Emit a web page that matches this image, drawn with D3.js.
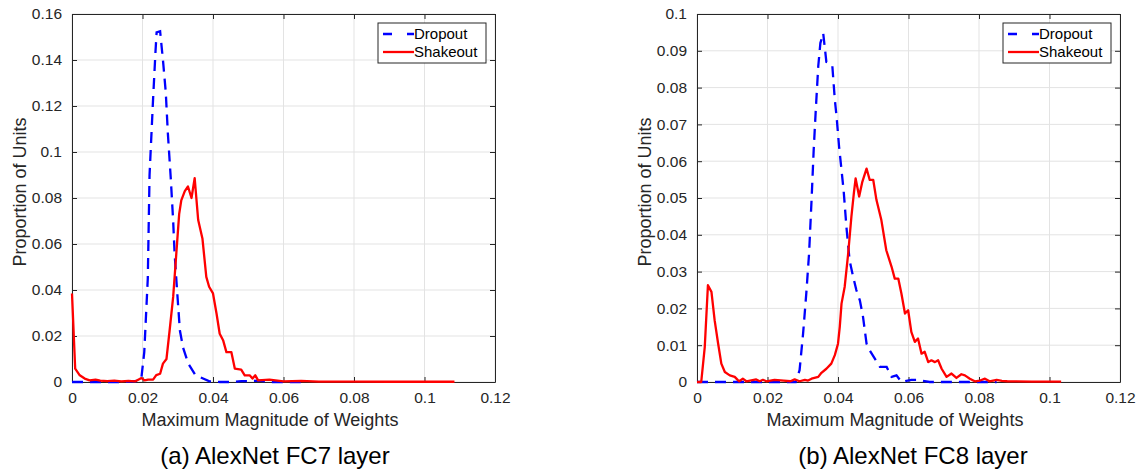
<!DOCTYPE html>
<html>
<head>
<meta charset="utf-8">
<script src="https://cdn.jsdelivr.net/npm/d3@7"></script>
<style>
  body { margin: 0; background: #fff; }
  text { font-family: "Liberation Sans", Arial, sans-serif; }
</style>
</head>
<body>
<div id="chart"></div>
<script>
// Two MATLAB-style histogram curves: Dropout vs Shakeout weight magnitudes

var svgWidth = 1137;
var svgHeight = 469;

// ---- data ----
// (a) FC7
var fc7DropX = [0, 0.005, 0.01, 0.015, 0.019, 0.0197, 0.0205, 0.0215, 0.022, 0.023, 0.0237, 0.024, 0.025, 0.0258, 0.0266, 0.0272, 0.028, 0.0287, 0.0291, 0.0298, 0.0306, 0.0315, 0.033, 0.035, 0.039, 0.042, 0.045, 0.048, 0.05, 0.053, 0.056, 0.06, 0.065];
var fc7DropY = [0, 0, 0, 0, 0.0005, 0.002, 0.013, 0.045, 0.09, 0.123, 0.144, 0.152, 0.1525, 0.14, 0.126, 0.108, 0.089, 0.07, 0.056, 0.04, 0.0225, 0.015, 0.008, 0.003, 0.0003, 0, 0, 0.0004, 0.0004, 0.0006, 0, 0, 0];

var fc7ShakeX = [0, 0.0009, 0.0022, 0.0036, 0.005, 0.0067, 0.008, 0.01, 0.012, 0.014, 0.016, 0.018, 0.0197, 0.0206, 0.0216, 0.023, 0.0239, 0.025, 0.0258, 0.0268, 0.0277, 0.0287, 0.0296, 0.0304, 0.031, 0.032, 0.0329, 0.0339, 0.0348, 0.0358, 0.037, 0.0381, 0.0389, 0.04, 0.041, 0.0419, 0.0429, 0.0438, 0.0452, 0.0462, 0.048, 0.049, 0.0504, 0.0512, 0.052, 0.0528, 0.056, 0.06, 0.065, 0.07, 0.08, 0.09, 0.1, 0.1085];
var fc7ShakeY = [0.0385, 0.0058, 0.0029, 0.0015, 0.0007, 0.001, 0.0006, 0.0004, 0.0006, 0.0003, 0.0005, 0.0003, 0.0017, 0.0007, 0.001, 0.001, 0.003, 0.0036, 0.008, 0.010, 0.0225, 0.037, 0.056, 0.073, 0.079, 0.083, 0.085, 0.080, 0.0886, 0.0704, 0.0624, 0.0457, 0.0414, 0.0385, 0.0298, 0.021, 0.018, 0.013, 0.013, 0.0058, 0.0054, 0.0029, 0.0029, 0.0015, 0.0029, 0.0007, 0.001, 0.0003, 0.0005, 0.0002, 0.0002, 0.0001, 0.0001, 0.0001];

// (b) FC8
var fc8DropX = [0, 0.01, 0.02, 0.028, 0.0291, 0.0301, 0.031, 0.0318, 0.0325, 0.0331, 0.0337, 0.0344, 0.035, 0.0358, 0.0367, 0.0377, 0.0384, 0.0391, 0.0396, 0.0403, 0.041, 0.0416, 0.0424, 0.0433, 0.0443, 0.0452, 0.0462, 0.0471, 0.0481, 0.049, 0.0504, 0.0519, 0.0538, 0.0552, 0.0566, 0.058, 0.0608, 0.0625, 0.066, 0.07, 0.08, 0.085];
var fc8DropY = [0, 0, 0, 0, 0.0032, 0.0132, 0.024, 0.035, 0.0495, 0.063, 0.074, 0.0858, 0.0921, 0.0948, 0.087, 0.0867, 0.0858, 0.0767, 0.0721, 0.064, 0.0576, 0.052, 0.042, 0.033, 0.0286, 0.025, 0.0222, 0.0177, 0.0104, 0.0086, 0.0064, 0.0041, 0.0041, 0.0014, 0.0018, 0, 0.0006, 0.0006, 0, 0, 0, 0];

var fc8ShakeX = [0, 0.0012, 0.0022, 0.0031, 0.0041, 0.005, 0.006, 0.0069, 0.0079, 0.0093, 0.0107, 0.0116, 0.012, 0.013, 0.014, 0.0168, 0.0178, 0.0187, 0.0197, 0.022, 0.0246, 0.0265, 0.0277, 0.0291, 0.0306, 0.0315, 0.0325, 0.0344, 0.0353, 0.0367, 0.0381, 0.0391, 0.04, 0.0405, 0.041, 0.0419, 0.0429, 0.0438, 0.0445, 0.045, 0.046, 0.0469, 0.0481, 0.049, 0.05, 0.0509, 0.0523, 0.0537, 0.0552, 0.0561, 0.0571, 0.058, 0.059, 0.0599, 0.0608, 0.0618, 0.0627, 0.0637, 0.0646, 0.0656, 0.0665, 0.0675, 0.0684, 0.0694, 0.0708, 0.0722, 0.0736, 0.075, 0.076, 0.0774, 0.0788, 0.0803, 0.0817, 0.083, 0.085, 0.0865, 0.088, 0.095, 0.1033];
var fc8ShakeY = [0, 0, 0.0095, 0.0263, 0.0245, 0.0168, 0.0104, 0.005, 0.0027, 0.0018, 0.0014, 0.0005, 0.0002, 0.0009, 0.0002, 0.0007, 0.0002, 0.0006, 0.0002, 0.0006, 0.0004, 0.0002, 0.0007, 0.0002, 0.0006, 0.0004, 0.0009, 0.0014, 0.0025, 0.0036, 0.005, 0.0073, 0.0104, 0.015, 0.0213, 0.0259, 0.035, 0.0449, 0.0513, 0.0553, 0.0504, 0.0544, 0.058, 0.0549, 0.0549, 0.0495, 0.044, 0.0358, 0.0313, 0.0281, 0.0281, 0.024, 0.0186, 0.0195, 0.0136, 0.0109, 0.0118, 0.0077, 0.0082, 0.0054, 0.0059, 0.0054, 0.0059, 0.0036, 0.0014, 0.0023, 0.0011, 0.0021, 0.0018, 0.0009, 0.0002, 0.0004, 0.0009, 0.0002, 0.0006, 0.0003, 0.0002, 0.0001, 0.0001];

var xTicks = [0, 0.02, 0.04, 0.06, 0.08, 0.1, 0.12];
var fc7YTicks = [0, 0.02, 0.04, 0.06, 0.08, 0.1, 0.12, 0.14, 0.16];
var fc8YTicks = [0, 0.01, 0.02, 0.03, 0.04, 0.05, 0.06, 0.07, 0.08, 0.09, 0.1];
var seriesNames = ["Dropout", "Shakeout"];

var panels = [
    {left: 72, caption: "(a) AlexNet FC7 layer", captionX: 203, yMax: 0.16, yTicks: fc7YTicks,
     drop: d3.zip(fc7DropX, fc7DropY), shake: d3.zip(fc7ShakeX, fc7ShakeY)},
    {left: 697, caption: "(b) AlexNet FC8 layer", captionX: 216, yMax: 0.1, yTicks: fc8YTicks,
     drop: d3.zip(fc8DropX, fc8DropY), shake: d3.zip(fc8ShakeX, fc8ShakeY)}
];

var plotWidth = 423;
var plotTop = 14;
var plotHeight = 368;
var axisColor = "#262626";

var svg = d3.select("#chart").append("svg")
    .attr("width", svgWidth)
    .attr("height", svgHeight);

panels.forEach(function(p) {
    var g = svg.append("g")
        .attr("transform", `translate(${p.left}, ${plotTop})`);

    var x = d3.scaleLinear().domain([0, 0.12]).range([0, plotWidth]);
    var y = d3.scaleLinear().domain([0, p.yMax]).range([plotHeight, 0]);

    // grid
    g.append("g").selectAll("line").data(xTicks).enter().append("line")
        .attr("x1", d => x(d)).attr("x2", d => x(d))
        .attr("y1", 0).attr("y2", plotHeight)
        .attr("stroke", "#e3e3e3").attr("stroke-width", 1);
    g.append("g").selectAll("line").data(p.yTicks).enter().append("line")
        .attr("y1", d => y(d)).attr("y2", d => y(d))
        .attr("x1", 0).attr("x2", plotWidth)
        .attr("stroke", "#e3e3e3").attr("stroke-width", 1);

    // axes, ticks inside on all four sides
    var xAxis = d3.axisBottom(x).tickValues(xTicks).tickFormat(d3.format("~g")).tickSizeInner(-5).tickSizeOuter(0).tickPadding(10);
    var yAxis = d3.axisLeft(y).tickValues(p.yTicks).tickFormat(d3.format("~g")).tickSizeInner(-5).tickSizeOuter(0).tickPadding(10);

    var gx = g.append("g").attr("transform", `translate(0, ${plotHeight})`).call(xAxis);
    var gy = g.append("g").call(yAxis);
    var gx2 = g.append("g").call(d3.axisTop(x).tickValues(xTicks).tickFormat("").tickSizeInner(-5).tickSizeOuter(0));
    var gy2 = g.append("g").attr("transform", `translate(${plotWidth}, 0)`)
        .call(d3.axisRight(y).tickValues(p.yTicks).tickFormat("").tickSizeInner(-5).tickSizeOuter(0));

    [gx, gy, gx2, gy2].forEach(function(a) {
        a.select(".domain").attr("stroke", axisColor);
        a.selectAll(".tick line").attr("stroke", axisColor);
        a.selectAll("text").attr("fill", axisColor).attr("font-size", "15.5px")
            .style("font-family", "'Liberation Sans', Arial, sans-serif");
    });
    gx.selectAll("text").attr("dy", "0.71em");

    // curves
    var line = d3.line().x(d => x(d[0])).y(d => y(d[1]));

    g.append("path").datum(p.drop)
        .attr("d", line)
        .attr("fill", "none")
        .attr("stroke", "#0000ff")
        .attr("stroke-width", 2.3)
        .attr("stroke-dasharray", "11,7");

    g.append("path").datum(p.shake)
        .attr("d", line)
        .attr("fill", "none")
        .attr("stroke", "#ff0000")
        .attr("stroke-width", 2.3)
        .attr("stroke-linejoin", "round");

    // legend
    var lg = g.append("g").attr("transform", `translate(${plotWidth - 117}, 9)`);
    lg.append("rect").attr("width", 108).attr("height", 40)
        .attr("fill", "#fff").attr("stroke", axisColor).attr("stroke-width", 1);
    seriesNames.forEach(function(name, i) {
        var yy = 11 + i * 18;
        lg.append("line")
            .attr("x1", 5).attr("x2", 36).attr("y1", yy).attr("y2", yy)
            .attr("stroke", i === 0 ? "#0000ff" : "#ff0000")
            .attr("stroke-width", 2.3)
            .attr("stroke-dasharray", i === 0 ? "9,15" : null);
        lg.append("text")
            .attr("x", 36).attr("y", yy).attr("dy", "0.35em")
            .attr("font-size", "15px").attr("fill", "#000")
            .text(name);
    });

    // axis labels
    g.append("text")
        .attr("x", 198).attr("y", plotHeight + 44)
        .attr("text-anchor", "middle")
        .attr("font-size", "18px").attr("fill", axisColor)
        .text("Maximum Magnitude of Weights");

    g.append("text")
        .attr("transform", "rotate(-90)")
        .attr("x", -(plotHeight / 2) + 6).attr("y", -46)
        .attr("text-anchor", "middle")
        .attr("font-size", "18px").attr("fill", axisColor)
        .text("Proportion of Units");

    // caption
    g.append("text")
        .attr("x", p.captionX).attr("y", plotHeight + 82)
        .attr("text-anchor", "middle")
        .attr("font-size", "24px").attr("fill", "#000")
        .text(p.caption);
});
</script>
</body>
</html>
